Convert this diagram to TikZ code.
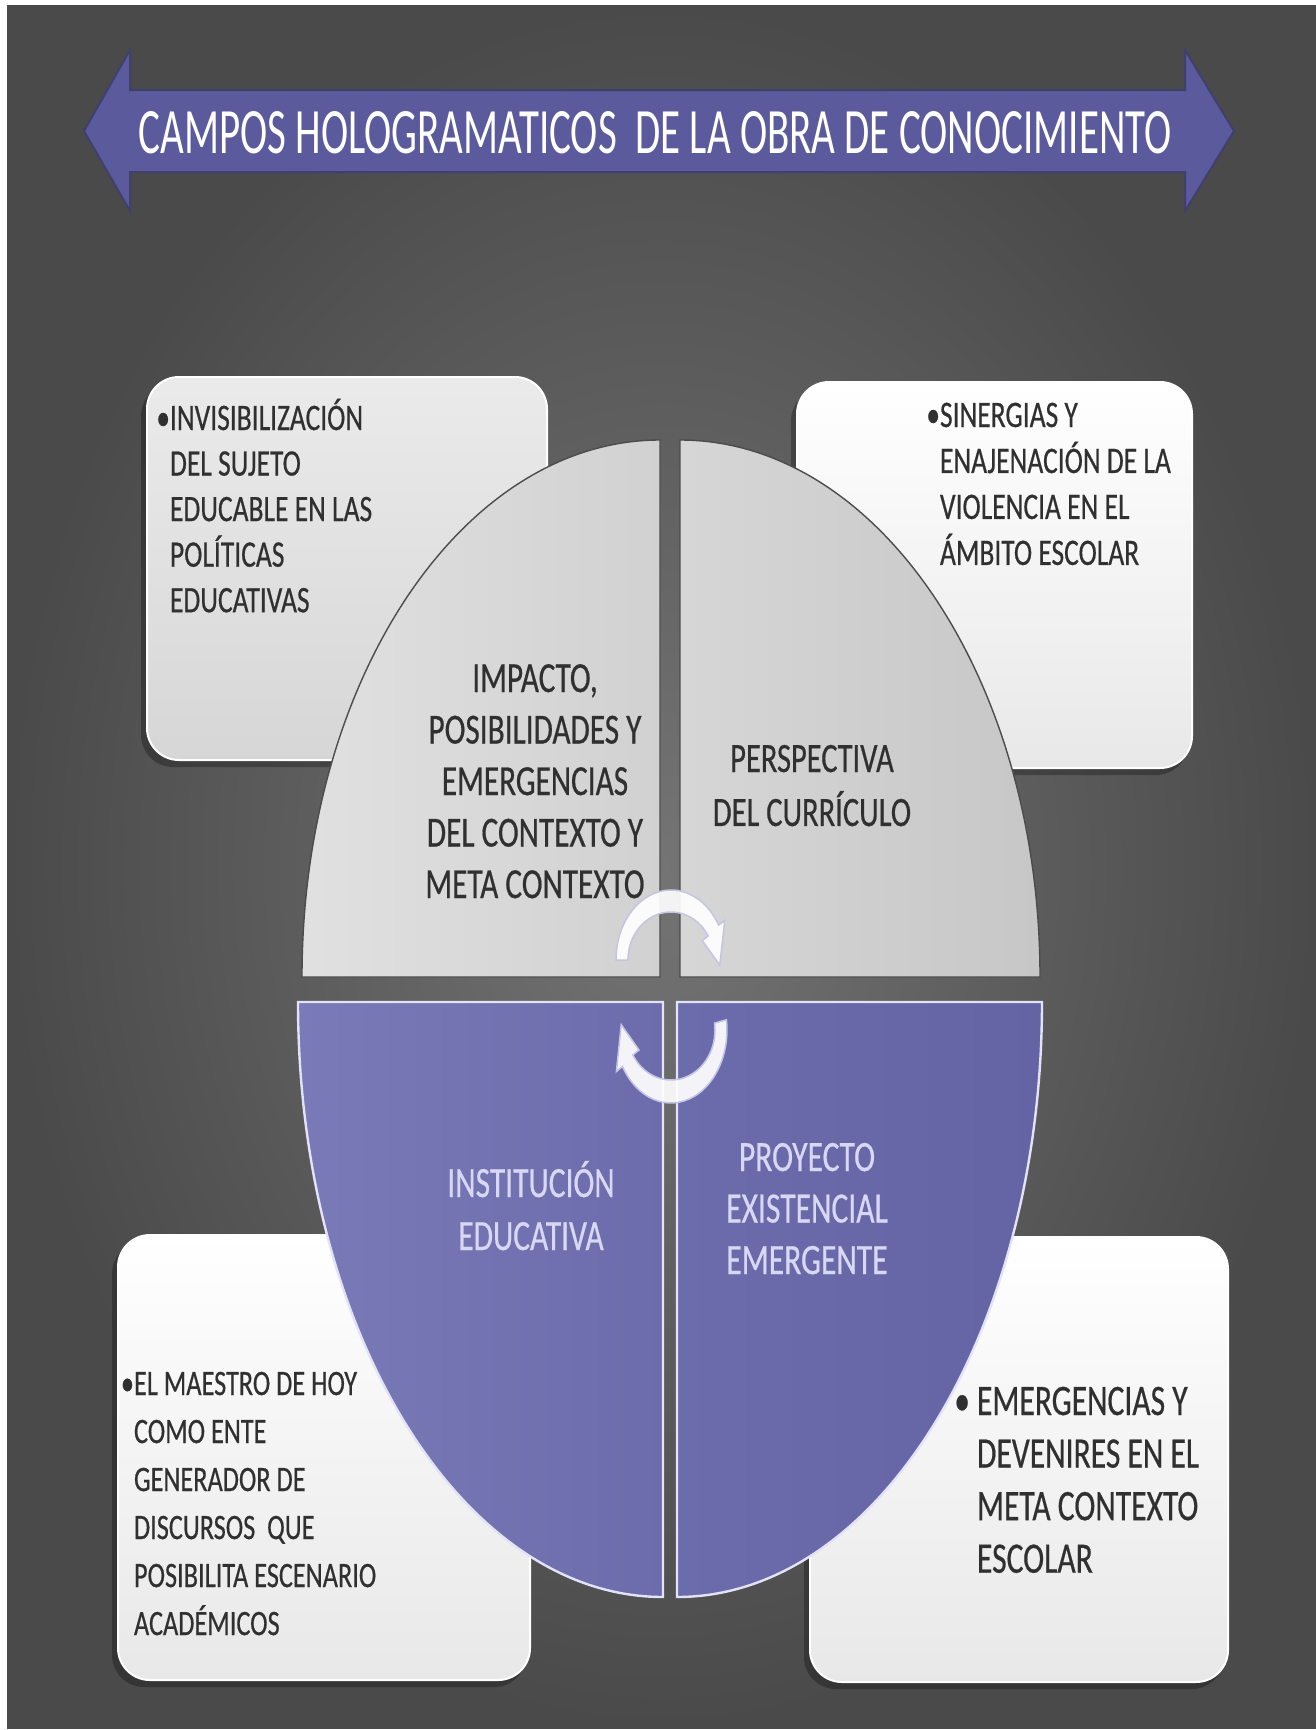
\documentclass[tikz,border=0pt]{standalone}
\usepackage{fontspec}
\usepackage{graphicx}
\setmainfont{Carlito}
\newfontfamily\heavyfont{Carlito}[FakeBold=0.6]
\definecolor{bgin}{HTML}{747474}
\definecolor{bgout}{HTML}{4A4A4A}
\definecolor{titlefill}{HTML}{5A5A9C}
\definecolor{titleedge}{HTML}{40406E}
\definecolor{boxtext}{HTML}{303030}
\definecolor{lowtext}{HTML}{D8D8F4}
\definecolor{lavline}{HTML}{E2E2F8}
\definecolor{arrowedge}{HTML}{C4C4E4}
\tikzset{
  boxshadow/.style={fill=black, fill opacity=0.28, rounded corners=32pt},
  greybox/.style={rounded corners=32pt, top color=white!92!black, bottom color=white!84!black, draw=white, line width=2pt},
  whitebox/.style={rounded corners=32pt, top color=white, bottom color=white!91!black, draw=white, line width=2pt},
  upq/.style={draw=black!70, line width=1.4pt},
  lowq/.style={draw=lavline, line width=2.4pt},
  cyclearrow/.style={fill=white, fill opacity=0.92, draw=arrowedge, line width=1.5pt},
  txt/.style={inner sep=0pt, outer sep=0pt, text=boxtext, font=\heavyfont},
}
\begin{document}
\begin{tikzpicture}[x=1pt,y=1pt]
\useasboundingbox (0,0) rectangle (1316,-1730);
\fill[white] (0,0) rectangle (1316,-1730);
\shade[inner color=bgin, outer color=bgout] (7,-5) rectangle (1316,-1728);

% title arrow
\path[fill=titlefill, draw=titleedge, line width=2pt]
  (84,-131) -- (130,-50) -- (130,-90) -- (1185,-90) -- (1185,-50) -- (1234,-131)
  -- (1185,-211) -- (1185,-172) -- (130,-172) -- (130,-211) -- cycle;
\node[inner sep=0pt, text=white, anchor=base] (title) at (655,-153)
  {\resizebox{1033pt}{42pt}{\fontsize{40}{40}\selectfont CAMPOS HOLOGRAMATICOS\ \ DE LA OBRA DE CONOCIMIENTO}};

% corner boxes
\fill[boxshadow] (141,-384) rectangle (543,-767);
\path[greybox] (147,-377) rectangle (547,-760);
\fill[boxshadow] (791,-389) rectangle (1188,-775);
\path[whitebox] (797,-382) rectangle (1192,-768);
\fill[boxshadow] (112,-1242) rectangle (526,-1687);
\path[whitebox] (118,-1235) rectangle (530,-1680);
\fill[boxshadow] (804,-1244) rectangle (1224,-1689);
\path[whitebox] (810,-1237) rectangle (1228,-1682);

% quadrants
\path[upq, left color=white!88!black, right color=white!82!black]
  (660,-977) -- (660,-440) arc[start angle=90,end angle=180,x radius=358,y radius=537] -- cycle;
\path[upq, left color=white!84!black, right color=white!78!black]
  (680,-977) -- (680,-440) arc[start angle=90,end angle=0,x radius=360,y radius=537] -- cycle;
\path[lowq, left color={rgb,255:red,122;green,122;blue,184}, right color={rgb,255:red,108;green,108;blue,172}]
  (663,-1002) -- (298,-1002) arc[start angle=180,end angle=270,x radius=365,y radius=595] -- cycle;
\path[lowq, left color={rgb,255:red,108;green,108;blue,172}, right color={rgb,255:red,100;green,100;blue,164}]
  (677,-1002) -- (1042,-1002) arc[start angle=0,end angle=-90,x radius=365,y radius=595] -- cycle;

% cycle arrows
\path[cyclearrow]
  (616,-960) arc[start angle=180,end angle=30,x radius=55,y radius=70]
  -- (724.7,-920.5) -- (719.8,-965.1) -- (702.2,-940.5) -- (708.2,-936)
  arc[start angle=30,end angle=180,x radius=43,y radius=48] -- cycle;
\path[cyclearrow]
  (726.4,-1019.8) arc[start angle=8,end angle=-150,x radius=56,y radius=73]
  -- (616.4,-1071.5) -- (621.2,-1024.6) -- (639,-1050) -- (632.9,-1055)
  arc[start angle=-150,end angle=8,x radius=44,y radius=50] -- cycle;

% box texts
\node[txt, anchor=base west] (tl) at (170,-430)
  {\scalebox{1}[1.36]{\fontsize{27.5}{33.5}\selectfont\begin{tabular}[t]{@{}l@{}}
  \llap{•}INVISIBILIZACIÓN\\ DEL SUJETO\\ EDUCABLE EN LAS\\ POLÍTICAS\\ EDUCATIVAS\end{tabular}}};
\node[txt, anchor=base west] (tr) at (940,-427)
  {\scalebox{1}[1.36]{\fontsize{27.5}{33.8}\selectfont\begin{tabular}[t]{@{}l@{}}
  \llap{•}SINERGIAS Y\\ ENAJENACIÓN DE LA\\ VIOLENCIA EN EL\\ ÁMBITO ESCOLAR\end{tabular}}};
\node[txt, anchor=base west] (bl) at (134,-1395)
  {\scalebox{1}[1.36]{\fontsize{26.3}{35.3}\selectfont\begin{tabular}[t]{@{}l@{}}
  \llap{•}EL MAESTRO DE HOY\\ COMO ENTE\\ GENERADOR DE\\ DISCURSOS\ \ QUE\\ POSIBILITA ESCENARIO\\ ACADÉMICOS\end{tabular}}};
\node[txt, anchor=base west] (br) at (977,-1415)
  {\scalebox{1}[1.376]{\fontsize{31.6}{38.2}\selectfont\begin{tabular}[t]{@{}l@{}}
  \llap{•\hspace{7pt}}EMERGENCIAS Y\\ DEVENIRES EN EL\\ META CONTEXTO\\ ESCOLAR\end{tabular}}};

% quadrant texts
\node[txt, anchor=base] (q1) at (535,-692)
  {\scalebox{1}[1.37]{\fontsize{31.3}{37.6}\selectfont\begin{tabular}[t]{@{}c@{}}
  IMPACTO,\\ POSIBILIDADES Y\\ EMERGENCIAS\\ DEL CONTEXTO Y\\ META CONTEXTO\end{tabular}}};
\node[txt, anchor=base] (q2) at (812,-772)
  {\scalebox{1}[1.37]{\fontsize{30.5}{39.4}\selectfont\begin{tabular}[t]{@{}c@{}}
  PERSPECTIVA\\ DEL CURRÍCULO\end{tabular}}};
\node[txt, anchor=base, text=lowtext] (q3) at (531,-1197)
  {\scalebox{1}[1.37]{\fontsize{31.5}{38.7}\selectfont\begin{tabular}[t]{@{}c@{}}
  INSTITUCIÓN\\ EDUCATIVA\end{tabular}}};
\node[txt, anchor=base, text=lowtext] (q4) at (807,-1171)
  {\scalebox{1}[1.37]{\fontsize{31.6}{37.6}\selectfont\begin{tabular}[t]{@{}c@{}}
  PROYECTO\\ EXISTENCIAL\\ EMERGENTE\end{tabular}}};
\end{tikzpicture}
\end{document}
